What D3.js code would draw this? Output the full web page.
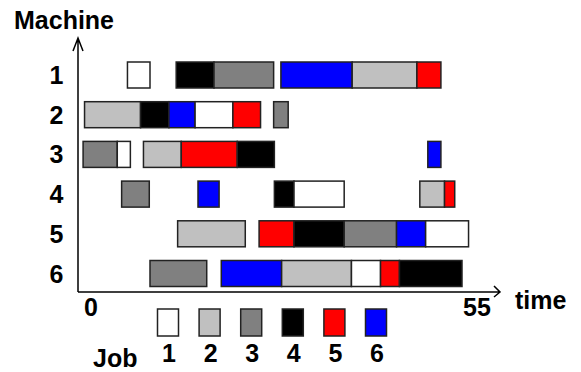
<!DOCTYPE html>
<html>
<head>
<meta charset="utf-8">
<script src="https://cdn.jsdelivr.net/npm/d3@7"></script>
<style>
  html, body { margin: 0; padding: 0; background: #fff; }
  svg { display: block; }
  text { font-family: "Liberation Sans", Arial, sans-serif; font-weight: bold; fill: #000; }
</style>
</head>
<body>
<svg id="chart" width="581" height="372"></svg>
<script>
// ---- data ----
const machines = [1, 2, 3, 4, 5, 6];
const jobs = [1, 2, 3, 4, 5, 6];
const jobColors = ["#ffffff", "#c0c0c0", "#808080", "#000000", "#ff0000", "#0000ff"];
const timeTicks = [0, 55];

// operations: machine, job, start, end (time units)
const opMachine = [1, 1, 1, 1, 1, 1,
                   2, 2, 2, 2, 2, 2,
                   3, 3, 3, 3, 3, 3,
                   4, 4, 4, 4, 4, 4,
                   5, 5, 5, 5, 5, 5,
                   6, 6, 6, 6, 6, 6];
const opJob = [1, 4, 3, 6, 2, 5,
               2, 4, 6, 1, 5, 3,
               3, 1, 2, 5, 4, 6,
               3, 6, 4, 1, 2, 5,
               2, 5, 4, 3, 6, 1,
               3, 6, 2, 1, 5, 4];
const opStart = [6.8, 13.5, 18.7, 27.9, 37.7, 46.6,
                 0.9, 8.6, 12.5, 16.1, 21.3, 26.9,
                 0.7, 5.4, 9.0, 14.2, 21.9, 48.1,
                 6.0, 16.5, 27.0, 29.7, 47.0, 50.4,
                 13.7, 24.9, 29.7, 36.6, 43.8, 47.8,
                 9.9, 19.7, 28.0, 37.6, 41.6, 44.2];
const opEnd = [9.9, 18.7, 26.9, 37.7, 46.6, 49.9,
               8.6, 12.5, 16.1, 21.3, 25.1, 28.9,
               5.4, 7.2, 14.2, 21.9, 27.0, 49.9,
               9.8, 19.4, 29.7, 36.6, 50.4, 51.8,
               23.0, 29.7, 36.6, 43.8, 47.8, 53.7,
               17.7, 28.0, 37.6, 41.6, 44.2, 52.8];

const ops = opMachine.map((m, i) => ({ machine: m, job: opJob[i], start: opStart[i], end: opEnd[i] }));

// ---- layout ----
const svg = d3.select("#chart");
const x = d3.scaleLinear().domain([0, 55]).range([78, 478]);
const y = d3.scalePoint().domain(machines).range([75, 273.5]);
const color = d3.scaleOrdinal().domain(jobs).range(jobColors);
const barH = 26;
const fs = 25;

// bars
svg.append("g").selectAll("rect").data(ops).join("rect")
  .attr("x", d => x(d.start))
  .attr("y", d => y(d.machine) - barH / 2)
  .attr("width", d => x(d.end) - x(d.start))
  .attr("height", barH)
  .attr("fill", d => color(d.job))
  .attr("stroke", "#222")
  .attr("stroke-width", 1.5);

// axes
const ax = svg.append("g").attr("fill", "none").attr("stroke", "#000").attr("stroke-width", 1.5);
const x0 = x(0), yBase = 292;
ax.append("path").attr("d", `M${x0},${yBase} L${x0},38 M${x0 - 5},51 L${x0},38 L${x0 + 5},51`);
ax.append("path").attr("d", `M${x0},${yBase} L500,${yBase} M494,${yBase - 6} L500,${yBase} L494,${yBase + 5}`);

// machine labels
svg.append("g").selectAll("text").data(machines).join("text")
  .attr("x", 56.5)
  .attr("y", d => y(d) + 9)
  .attr("text-anchor", "middle")
  .attr("font-size", fs)
  .text(d => d);

// time tick labels
svg.append("g").selectAll("text").data(timeTicks).join("text")
  .attr("x", (d, i) => x(d) + (i === 0 ? 13 : -1))
  .attr("y", 316)
  .attr("text-anchor", "middle")
  .attr("font-size", fs)
  .text(d => d);

// axis titles
svg.append("text").attr("x", 14).attr("y", 29).attr("font-size", fs).text("Machine");
svg.append("text").attr("x", 515).attr("y", 309).attr("font-size", fs).text("time");

// legend
const lx = d3.scalePoint().domain(jobs).range([168, 376]);
svg.append("g").selectAll("rect").data(jobs).join("rect")
  .attr("x", d => lx(d) - 10.5)
  .attr("y", 309)
  .attr("width", 21)
  .attr("height", 27)
  .attr("fill", d => color(d))
  .attr("stroke", "#222")
  .attr("stroke-width", 1.5);
svg.append("g").selectAll("text").data(jobs).join("text")
  .attr("x", d => lx(d) + 1)
  .attr("y", 362)
  .attr("text-anchor", "middle")
  .attr("font-size", fs)
  .text(d => d);
svg.append("text").attr("x", 93).attr("y", 367).attr("font-size", fs).text("Job");
</script>
</body>
</html>
